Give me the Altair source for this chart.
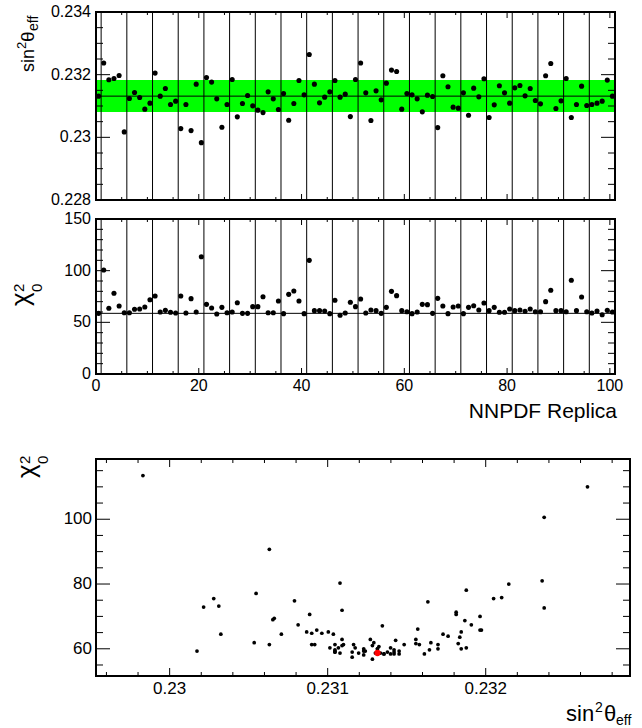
import altair as alt
import pandas as pd

# ---------------- data ----------------
replica = list(range(101))
sin2 = [0.231315, 0.232370, 0.231836, 0.231877, 0.231973, 0.230173, 0.231238, 0.231430, 0.231270, 0.230899,
        0.231091, 0.232050, 0.231315, 0.231558, 0.231046, 0.231155, 0.230279, 0.231046, 0.230215, 0.231698,
        0.229831, 0.231909, 0.231762, 0.231228, 0.230324, 0.231046, 0.231845, 0.230653, 0.231078, 0.231334,
        0.231004, 0.230867, 0.230790, 0.231452, 0.231228, 0.230886, 0.231398, 0.230547, 0.231078, 0.231813,
        0.231356, 0.232644, 0.231698, 0.231100, 0.231283, 0.231452, 0.231813, 0.231283, 0.231378, 0.230662,
        0.231845, 0.232370, 0.231420, 0.230535, 0.231484, 0.231196, 0.231730, 0.232146, 0.232101, 0.230899,
        0.231398, 0.231356, 0.231228, 0.230813, 0.231346, 0.231302, 0.230311, 0.231964, 0.231612, 0.230963,
        0.230931, 0.231420, 0.230707, 0.231570, 0.231292, 0.231868, 0.230631, 0.231036, 0.231644, 0.231420,
        0.231091, 0.231580, 0.231653, 0.231324, 0.231558, 0.231174, 0.231068, 0.231964, 0.232357, 0.230918,
        0.231164, 0.231877, 0.230631, 0.231046, 0.231634, 0.231014, 0.231046, 0.231091, 0.231155, 0.231826,
        0.231315]
chi2 = [58.7, 100.6, 63.6, 78.1, 65.8, 59.3, 59.3, 62.6, 62.9, 64.8,
        71.9, 75.5, 60.0, 61.6, 59.7, 59.0, 75.5, 59.0, 72.9, 60.0,
        113.5, 67.4, 63.9, 58.1, 64.5, 59.3, 60.0, 69.0, 58.7, 58.7,
        65.2, 65.2, 74.8, 59.3, 59.3, 70.6, 58.4, 77.1, 80.3, 70.6,
        58.4, 110.0, 61.3, 61.3, 61.0, 58.4, 71.3, 56.8, 59.0, 69.4,
        65.2, 72.6, 59.0, 61.9, 61.3, 58.7, 64.5, 80.0, 75.8, 61.3,
        60.3, 58.4, 60.0, 67.4, 67.1, 58.7, 73.2, 65.8, 58.4, 64.8,
        65.8, 58.4, 64.5, 66.1, 61.9, 68.7, 61.3, 64.5, 59.7, 59.7,
        62.9, 61.3, 61.9, 60.7, 62.9, 60.3, 60.3, 70.0, 81.0, 61.3,
        61.3, 60.3, 90.7, 61.3, 74.5, 60.3, 59.0, 61.0, 57.4, 61.6,
        60.0]

central_sin2 = [0.231315]
band_lo = [0.23081]
band_hi = [0.23183]
central_chi2 = [58.7]
group_edges = [1, 6, 11, 16, 21, 26, 31, 36, 41, 46, 51, 56, 61, 66, 71, 76, 81, 86, 91, 96]

rep_major = [0, 20, 40, 60, 80, 100]
rep_minor = [5, 10, 15, 25, 30, 35, 45, 50, 55, 65, 70, 75, 85, 90, 95]
top_y_major = [0.228, 0.230, 0.232, 0.234]
top_y_minor = [0.2285, 0.229, 0.2295, 0.2305, 0.231, 0.2315, 0.2325, 0.233, 0.2335]
mid_y_major = [0, 50, 100, 150]
mid_y_minor = [10, 20, 30, 40, 60, 70, 80, 90, 110, 120, 130, 140]
bot_x_major = [0.230, 0.231, 0.232]
bot_x_minor = [0.2296, 0.2298, 0.2302, 0.2304, 0.2306, 0.2308, 0.2312, 0.2314, 0.2316,
               0.2318, 0.2322, 0.2324, 0.2326, 0.2328]
bot_y_major = [60, 80, 100]
bot_y_minor = [55, 65, 70, 75, 85, 90, 95, 105, 110, 115]

df = pd.DataFrame({"replica": replica, "sin2": sin2, "chi2": chi2})

FONT = "Liberation Sans"
W1, H1 = 519, 188
W2, H2 = 519, 155
W3, H3 = 534, 217
GAP3 = 66            # extra room above the bottom plot area
T3, B3 = GAP3, GAP3 + H3

xs_rep = alt.Scale(domain=[0, 101], nice=False, zero=False)
ys_top = alt.Scale(domain=[0.228, 0.234], nice=False, zero=False)
ys_mid = alt.Scale(domain=[0, 150], nice=False, zero=False)
xs_bot = alt.Scale(domain=[0.229534, 0.232913], nice=False, zero=False)
ys_bot = alt.Scale(domain=[51.6, 118.6], range=[B3, T3], nice=False, zero=False)


def rule(d):
    return alt.Chart(pd.DataFrame(d)).mark_rule(color="black", strokeWidth=1)


def xticks(values, scale, length, top_y, bot_y):
    d = {"v": values}
    return [rule(d).encode(x=alt.X("v:Q", scale=scale, axis=None), y=alt.value(bot_y), y2=alt.value(bot_y - length)),
            rule(d).encode(x=alt.X("v:Q", scale=scale, axis=None), y=alt.value(top_y), y2=alt.value(top_y + length))]


def yticks(values, scale, length, W):
    d = {"v": values}
    return [rule(d).encode(y=alt.Y("v:Q", scale=scale, axis=None), x=alt.value(0), x2=alt.value(length)),
            rule(d).encode(y=alt.Y("v:Q", scale=scale, axis=None), x=alt.value(W), x2=alt.value(W - length))]


def xlabels(values, scale, fmt, size, y):
    return alt.Chart(pd.DataFrame({"v": values})).mark_text(
        font=FONT, fontSize=size, color="black", align="center", baseline="alphabetic").encode(
        x=alt.X("v:Q", scale=scale, axis=None), y=alt.value(y), text=alt.Text("v:Q", format=fmt))


def ylabels(values, scale, fmt, size, x):
    return alt.Chart(pd.DataFrame({"v": values})).mark_text(
        font=FONT, fontSize=size, color="black", align="right", baseline="middle").encode(
        y=alt.Y("v:Q", scale=scale, axis=None), x=alt.value(x), text=alt.Text("v:Q", format=fmt))


def frame(W, y0, y1):
    return alt.Chart(pd.DataFrame({"a": [0]})).mark_rect(
        filled=False, stroke="black", strokeWidth=2).encode(
        x=alt.value(0), x2=alt.value(W), y=alt.value(y0), y2=alt.value(y1))


def label(txt, x, y, size, angle=0, align="left", baseline="alphabetic"):
    kw = dict(font=FONT, fontSize=size, color="black", align=align, baseline=baseline)
    if angle:
        kw["angle"] = angle
    return alt.Chart(pd.DataFrame({"t": [txt]})).mark_text(**kw).encode(
        text="t:N", x=alt.value(x), y=alt.value(y))


# ---------------- top panel ----------------
canvas = alt.Chart(pd.DataFrame({"a": [0]})).mark_rect(opacity=0).encode(
    x=alt.value(-96), x2=alt.value(546), y=alt.value(-12), y2=alt.value(716))

band = alt.Chart(pd.DataFrame({"lo": band_lo, "hi": band_hi})).mark_rect(color="#00ff00").encode(
    y=alt.Y("lo:Q", scale=ys_top, axis=None), y2="hi:Q", x=alt.value(0), x2=alt.value(W1))

edges_top = rule({"v": group_edges}).encode(
    x=alt.X("v:Q", scale=xs_rep, axis=None), y=alt.value(0), y2=alt.value(H1))

cline_top = rule({"c": central_sin2}).encode(
    y=alt.Y("c:Q", scale=ys_top, axis=None), x=alt.value(0), x2=alt.value(W1))

pts_top = alt.Chart(df).transform_calculate(bin_center="datum.replica + 0.5").mark_circle(
    color="black", size=26, opacity=1).encode(
    x=alt.X("bin_center:Q", scale=xs_rep, axis=None),
    y=alt.Y("sin2:Q", scale=ys_top, axis=None))

top_layers = [canvas, band, edges_top, cline_top, pts_top]
top_layers += xticks(rep_major, xs_rep, 6, 0, H1) + xticks(rep_minor, xs_rep, 3, 0, H1)
top_layers += yticks(top_y_major, ys_top, 14, W1) + yticks(top_y_minor, ys_top, 7, W1)
top_layers += [ylabels(top_y_major, ys_top, ".3~f", 16, -5), frame(W1, 0, H1)]
top_layers += [
    label("sin", -62.5, 60, 18, angle=270),
    label("2", -70, 37, 13, angle=270),
    label("θ", -62.5, 30, 19, angle=270),
    label("eff", -58, 19, 14, angle=270),
]
top = alt.layer(*top_layers).properties(width=W1, height=H1)

# ---------------- middle panel ----------------
edges_mid = rule({"v": group_edges}).encode(
    x=alt.X("v:Q", scale=xs_rep, axis=None), y=alt.value(0), y2=alt.value(H2))

cline_mid = rule({"c": central_chi2}).encode(
    y=alt.Y("c:Q", scale=ys_mid, axis=None), x=alt.value(0), x2=alt.value(W2))

pts_mid = alt.Chart(df).transform_calculate(bin_center="datum.replica + 0.5").mark_circle(
    color="black", size=26, opacity=1).encode(
    x=alt.X("bin_center:Q", scale=xs_rep, axis=None),
    y=alt.Y("chi2:Q", scale=ys_mid, axis=None))

mid_layers = [edges_mid, cline_mid, pts_mid]
mid_layers += xticks(rep_major, xs_rep, 6, 0, H2) + xticks(rep_minor, xs_rep, 3, 0, H2)
mid_layers += yticks(mid_y_major, ys_mid, 14, W2) + yticks(mid_y_minor, ys_mid, 7, W2)
mid_layers += [ylabels(mid_y_major, ys_mid, "d", 16, -5),
               xlabels(rep_major, xs_rep, "d", 16, H2 + 17),
               frame(W2, 0, H2)]
mid_layers += [
    label("NNPDF Replica", 521, 199, 21, align="right"),
    label("χ", -67, 87, 26, angle=270),
    label("2", -72, 73, 15, angle=270),
    label("0", -54, 73, 15, angle=270),
]
middle = alt.layer(*mid_layers).properties(width=W2, height=H2)

# ---------------- bottom panel ----------------
pts_bot = alt.Chart(df).transform_filter("datum.replica > 0").mark_circle(
    color="black", size=14, opacity=1).encode(
    x=alt.X("sin2:Q", scale=xs_bot, axis=None),
    y=alt.Y("chi2:Q", scale=ys_bot, axis=None))

pt_central = alt.Chart(df).transform_filter("datum.replica == 0").mark_circle(
    color="#ff0000", size=40, opacity=1).encode(
    x=alt.X("sin2:Q", scale=xs_bot, axis=None),
    y=alt.Y("chi2:Q", scale=ys_bot, axis=None))

bot_layers = [pts_bot, pt_central]
bot_layers += xticks(bot_x_major, xs_bot, 8, T3, B3) + xticks(bot_x_minor, xs_bot, 4, T3, B3)
bot_layers += yticks(bot_y_major, ys_bot, 14, W3) + yticks(bot_y_minor, ys_bot, 7, W3)
bot_layers += [ylabels(bot_y_major, ys_bot, "d", 17, -4),
               xlabels(bot_x_major, xs_bot, ".3~f", 17, B3 + 18),
               frame(W3, T3, B3)]
bot_layers += [
    label("sin", 470, T3 + 262, 22),
    label("2", 499, T3 + 253, 14),
    label("θ", 508, T3 + 262, 22),
    label("eff", 520, T3 + 266, 14),
    label("χ", -61, T3 + 19, 26, angle=270),
    label("2", -66, T3 + 5, 15, angle=270),
    label("0", -48, T3 + 5, 15, angle=270),
]
bottom = alt.layer(*bot_layers).properties(width=W3, height=B3)

chart = alt.vconcat(top, middle, bottom, spacing=19, bounds="flush").properties(
    padding=0, background="white"
).configure(font=FONT).configure_view(stroke="transparent", strokeWidth=0)

chart.save("out.html", embed_options={"renderer": "svg", "actions": False})
